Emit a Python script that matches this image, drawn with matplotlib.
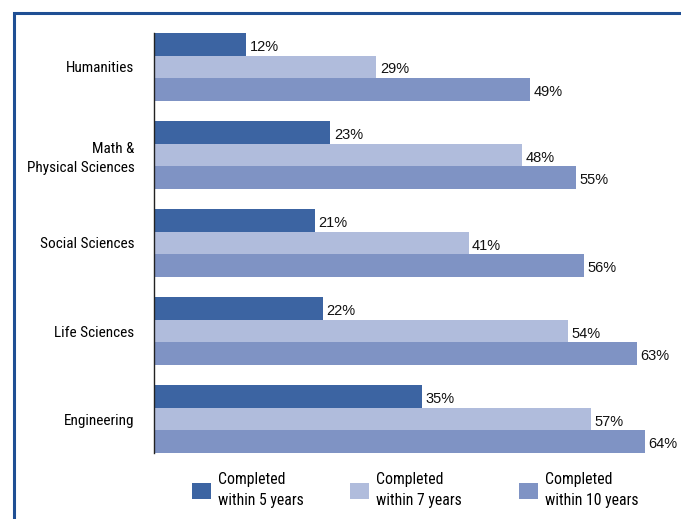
import numpy as np
import matplotlib.pyplot as plt
from matplotlib.patches import Rectangle, Patch

plt.rcParams['font.family'] = ['Roboto Condensed', 'Liberation Sans']

fields = ['Humanities', 'Math &\nPhysical Sciences', 'Social Sciences',
          'Life Sciences', 'Engineering']
within5 = [12, 23, 21, 22, 35]
within7 = [29, 48, 41, 54, 57]
within10 = [49, 55, 56, 63, 64]
series_names = ['Completed\nwithin 5 years', 'Completed\nwithin 7 years',
                'Completed\nwithin 10 years']
colors = ['#3c64a2', '#b0bcdc', '#7f93c4']
legend_x = [192, 350, 519]  # left edge of each legend swatch, in pixels

fig = plt.figure(figsize=(6.81, 5.19), dpi=100)
ax = fig.add_axes([154 / 681, 66 / 519, 527 / 681, 420 / 519])

y = np.arange(len(fields))
h = 0.256
for k, (vals, col) in enumerate(zip([within5, within7, within10], colors)):
    ypos = y + (k - 1) * h
    ax.barh(ypos, vals, height=h, color=col, edgecolor='none')
    for yy, v in zip(ypos, vals):
        ax.text(v + 0.45, yy + 0.03, f'{v}%', va='center', ha='left',
                fontsize=10.5, family='Liberation Sans', color='#111111')

ax.set_xlim(0, 68.7)
ax.set_ylim(len(fields) - 1 + 1.5 * h, -1.5 * h)
ax.set_yticks(y)
ax.set_yticklabels(fields, fontsize=11, ha='right', linespacing=1.45)
ax.tick_params(axis='y', length=0, pad=14)
ax.set_xticks([])
for s in ['top', 'right', 'bottom']:
    ax.spines[s].set_visible(False)
ax.spines['left'].set_color('#222222')
ax.spines['left'].set_linewidth(1.0)

# blue frame around the panel
fig.patches.append(Rectangle((14 / 681, -0.1), 1.2, (519 - 13) / 519 + 0.1,
                             transform=fig.transFigure, fill=False,
                             edgecolor='#1f4f94', linewidth=2.2))

# one legend per series so each entry sits at its own spot
for name, col, lx in zip(series_names, colors, legend_x):
    leg = fig.legend([Patch(facecolor=col, edgecolor='none')], [name],
                     loc='center left', frameon=False,
                     bbox_to_anchor=(lx / 681, 1 - 490 / 519),
                     borderpad=0, borderaxespad=0, fontsize=11.3,
                     handlelength=1.2, handleheight=1.2, handletextpad=0.45)
    for t in leg.get_texts():
        t.set_linespacing(1.45)

fig.savefig('out.png', dpi=100)
